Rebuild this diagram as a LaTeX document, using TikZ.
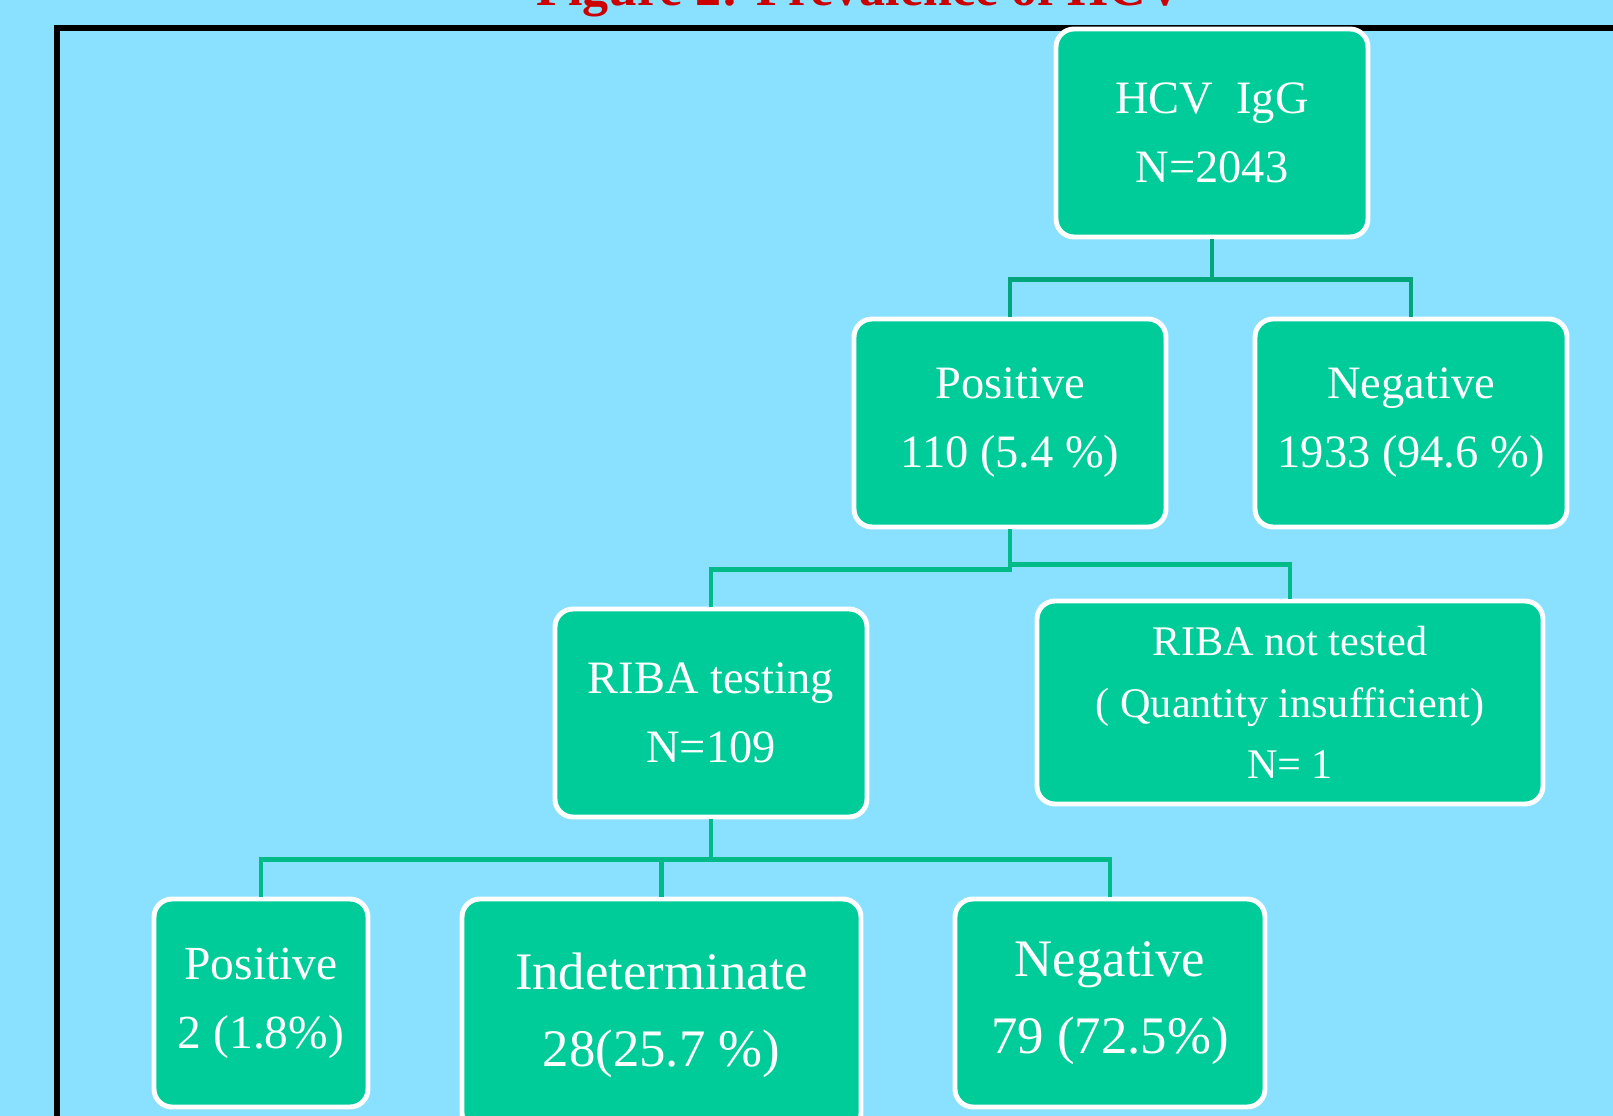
\documentclass[tikz,border=0pt]{standalone}
\usepackage{fontspec}
\setmainfont{Liberation Serif}
\usepackage{xcolor}
\usetikzlibrary{calc,positioning}

\definecolor{skyback}{RGB}{138,224,255}
\definecolor{boxgreen}{RGB}{0,204,153}
\definecolor{linkdark}{RGB}{0,166,122}
\definecolor{linkgreen}{RGB}{0,187,136}
\definecolor{titlered}{RGB}{204,0,0}

\begin{document}
\begin{tikzpicture}[x=0.01cm, y=-0.01cm,
  every node/.style={rectangle, rounded corners=0.18cm, draw=white, fill=boxgreen,
    line width=1.4pt, text=white, align=center, inner sep=0pt},
  link/.style={draw=linkgreen, line width=1.4pt}
]

% Page and frame
\useasboundingbox (0,0) rectangle (1613,1116);
\clip (0,0) rectangle (1613,1116);
\fill[skyback] (0,0) rectangle (1613,1116);
\draw[black, line width=1.6pt] (57,1200) -- (57,28) -- (1700,28);

% Title (cut off at the top)
\node[draw=none, fill=none, rounded corners=0pt, anchor=base, text=titlered,
  font=\fontsize{14.8}{18}\selectfont\bfseries] (title) at (860,6)
  {Figure 2: Prevalence of HCV};

% Box sizes
\tikzset{
  wbox/.style={minimum width=312*0.01cm, minimum height=208*0.01cm,
    font=\fontsize{13.2}{19.6}\selectfont},
  bigbox/.style={font=\fontsize{15}{21.9}\selectfont}
}

% Node coordinates WITH LABELS
\node[wbox] (hcv) at (1212,133) {HCV\ \ IgG\\N=2043};

\node[wbox] (posA) at (1010,423) {Positive\\110 (5.4 \%)};
\node[wbox] (negA) at (1411,423) {Negative\\1933 (94.6 \%)};

\node[wbox] (riba) at (711,713) {RIBA testing\\N=109};
\node[wbox, minimum width=506*0.01cm, minimum height=203*0.01cm,
  font=\fontsize{12}{17.4}\selectfont] (nori) at (1290,702.5)
  {RIBA not tested\\( Quantity insufficient)\\N= 1};

\node[wbox, minimum width=214*0.01cm, font=\fontsize{13.5}{19.6}\selectfont]
  (posB) at (261,1003) {Positive\\2 (1.8\%)};
\node[wbox, bigbox, minimum width=399*0.01cm, minimum height=232*0.01cm]
  (indet) at (661.5,1015) {Indeterminate\\28(25.7 \%)};
\node[wbox, bigbox, minimum width=310*0.01cm] (negB) at (1110,1003)
  {Negative\\79 (72.5\%)};

% ---- Edges ----
\draw[link, draw=linkdark] (hcv.south) -- ++(0,40) -| (posA.north);
\draw[link, draw=linkdark] (hcv.south) -- ++(0,40) -| (negA.north);

\draw[link] (posA.south) -- ++(0,40) -| (riba.north);
\draw[link] (posA.south) -- ++(0,35) -| (nori.north);

\draw[link] (riba.south) -- ++(0,40) -| (posB.north);
\draw[link] (riba.south) -- ++(0,40) -| (indet.north);
\draw[link] (riba.south) -- ++(0,40) -| (negB.north);

\end{tikzpicture}
\end{document}
